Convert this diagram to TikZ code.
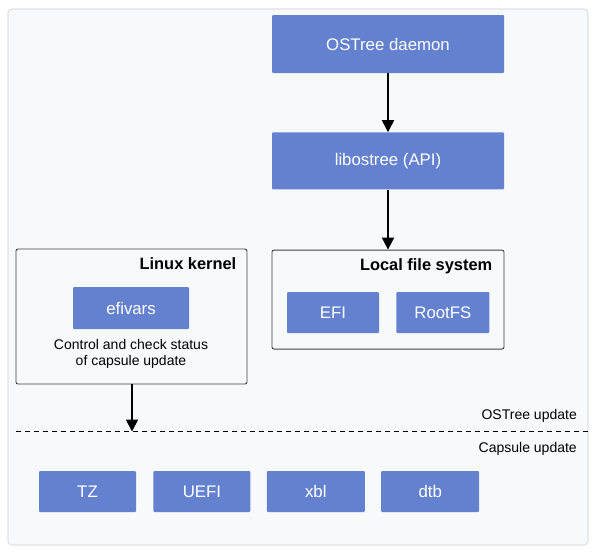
\documentclass[tikz,border=0pt]{standalone}
\usepackage{fontspec}
\setmainfont{Liberation Sans}
\usetikzlibrary{positioning, arrows.meta}
\definecolor{boxblue}{HTML}{6381CE}
\definecolor{panelgray}{HTML}{F8F9FA}
\definecolor{panelline}{HTML}{DFE1E6}

\begin{document}
\begin{tikzpicture}[x=1pt, y=-1pt,
    block/.style={rectangle, fill=boxblue, text=white, inner sep=0pt, rounded corners=1pt, font=\fontsize{16.8}{19}\selectfont},
    group/.style={rectangle, draw=black!75, fill=panelgray, rounded corners=2pt, line width=0.9pt, inner sep=0pt},
    title/.style={anchor=base east, inner sep=0pt, font=\bfseries\fontsize{16.4}{19}\selectfont},
    note/.style={inner sep=0pt, font=\fontsize{14}{15.5}\selectfont},
    flow/.style={-{Triangle[width=12pt,length=12pt]}, line width=1.8pt}
  ]
    \useasboundingbox (0,0) rectangle (596,552);
    \draw[panelline, fill=panelgray, rounded corners=4pt, line width=1.2pt] (8,9) rectangle (588,545);

    % OSTree side
    \node[block, minimum width=232pt, minimum height=58pt] (daemon) at (388,44) {OSTree daemon};
    \node[block, minimum width=232pt, minimum height=57pt, below=59pt of daemon] (lib) {libostree (API)};
    \node[group, minimum width=232pt, minimum height=99pt, below=60pt of lib] (lfs) {};
    \node[title] (lfstitle) at ([xshift=-12pt, yshift=-21pt]lfs.north east) {Local file system};
    \node[block, minimum width=92pt, minimum height=41pt] (efi) at (333,312.5) {EFI};
    \node[block, minimum width=93pt, minimum height=41pt, right=17pt of efi] (rootfs) {RootFS};

    % kernel side
    \node[group, minimum width=231pt, minimum height=135pt] (kernel) at (131.5,316.5) {};
    \node[title] (kerneltitle) at ([xshift=-11pt, yshift=-21pt]kernel.north east) {Linux kernel};
    \node[block, minimum width=116pt, minimum height=42pt] (efivars) at (131,308) {efivars};
    \node[note, align=center, below=10pt of efivars] (status) {Control and check status\\of capsule update};

    % separator
    \coordinate (sepL) at (16,431.5);
    \coordinate (sepR) at (588,431.5);
    \coordinate (split) at (132,431.5);
    \draw[dashed, dash pattern=on 5pt off 4pt, line width=0.9pt] (sepL) -- (sepR);
    \node[note, anchor=base east] (ostreeupd) at (577,419) {OSTree update};
    \node[note, anchor=base east] (capsuleupd) at (577,452) {Capsule update};

    % capsule images
    \node[block, minimum width=97pt, minimum height=41pt] (tz) at (87.5,491.5) {TZ};
    \node[block, minimum width=97pt, minimum height=41pt, right=17pt of tz] (uefi) {UEFI};
    \node[block, minimum width=98pt, minimum height=41pt, right=16pt of uefi] (xbl) {xbl};
    \node[block, minimum width=98pt, minimum height=41pt, right=16pt of xbl] (dtb) {dtb};

    \draw[flow] (daemon) -- (lib);
    \draw[flow] (lib) -- (lfs);
    \draw[flow] (kernel.south -| split) -- (split);
\end{tikzpicture}
\end{document}
